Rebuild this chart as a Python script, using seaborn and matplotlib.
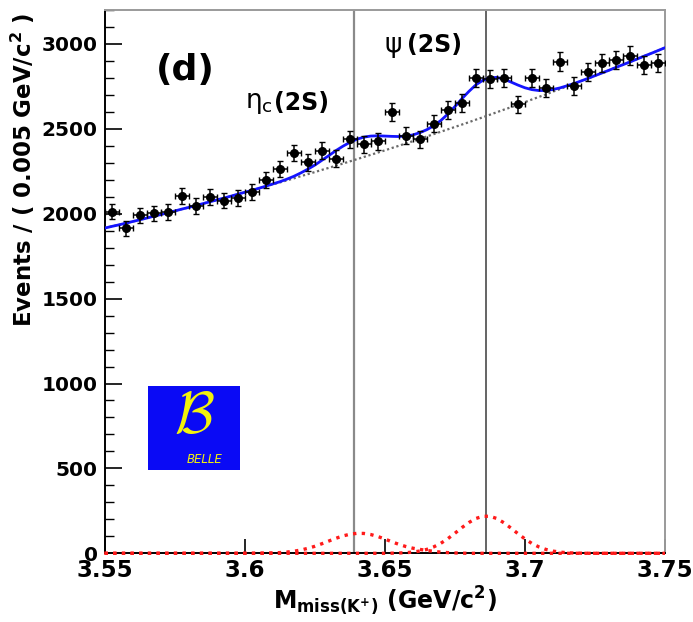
import numpy as np
import pandas as pd
import matplotlib
matplotlib.use("Agg")
import matplotlib.pyplot as plt
import seaborn as sns

# ---------------- data ----------------
mass_bins = np.round(np.arange(3.5525, 3.75, 0.005), 4)   # 40 bin centres (0.005 GeV bins)
counts = [2012, 1915, 1990, 2002, 2010, 2104, 2045, 2100, 2077, 2092,
          2128, 2199, 2262, 2357, 2302, 2372, 2325, 2439, 2408, 2427,
          2600, 2459, 2439, 2530, 2612, 2652, 2798, 2794, 2801, 2644,
          2798, 2739, 2896, 2754, 2833, 2888, 2904, 2931, 2876, 2888]

curve_mass = np.round(np.linspace(3.55, 3.75, 81), 4)
background = [1915, 1925, 1934, 1944, 1954, 1964, 1974, 1985, 1995, 2005,
              2016, 2027, 2037, 2048, 2059, 2070, 2081, 2092, 2103, 2115,
              2126, 2137, 2149, 2161, 2173, 2184, 2196, 2208, 2221, 2233,
              2245, 2258, 2270, 2283, 2295, 2308, 2321, 2334, 2347, 2360,
              2373, 2387, 2400, 2414, 2427, 2441, 2455, 2469, 2483, 2497,
              2511, 2525, 2539, 2554, 2568, 2583, 2598, 2613, 2627, 2642,
              2657, 2673, 2688, 2703, 2719, 2734, 2750, 2765, 2781, 2797,
              2813, 2829, 2845, 2862, 2878, 2894, 2911, 2928, 2944, 2961,
              2978]
etac_signal = [0] * 22 + [0.6, 1.1, 2.2, 4.1, 7.2, 12, 19, 29, 41, 56,
                          72, 88, 102, 112, 117.5, 117, 110.5, 99, 84.5, 68,
                          53, 40, 30, 23, 17, 11, 7, 4, 2, 1] + [0] * 29
psi_signal = [0] * 41 + [0.7, 1.7, 3.6, 7.1, 13.3, 23, 38, 59, 86, 117.5,
                         151, 181, 205, 218, 218, 205, 180, 149, 116, 85,
                         58, 37.6, 22.8, 13, 7, 3.5, 1.6, 0.7] + [0] * 12

x_ticks = [3.55, 3.6, 3.65, 3.7, 3.75]
x_tick_labels = ["3.55", "3.6", "3.65", "3.7", "3.75"]
y_ticks = [0, 500, 1000, 1500, 2000, 2500, 3000]
etac_mass = 3.639
psi_mass = 3.686

# ---------------- frames ----------------
pts = pd.DataFrame({"mass": mass_bins, "events": counts})
pts["err"] = np.sqrt(pts["events"])
curves = pd.DataFrame({"mass": curve_mass, "bkg": background,
                       "etac": etac_signal, "psi": psi_signal})
curves["total"] = curves["bkg"] + curves["etac"] + curves["psi"]

# ---------------- style ----------------
sns.set_theme(style="ticks")
plt.rcParams["font.family"] = ["DejaVu Sans"]
plt.rcParams["font.weight"] = "bold"
plt.rcParams["mathtext.fontset"] = "dejavusans"
for k in ["text.color", "axes.labelcolor", "xtick.color", "ytick.color"]:
    plt.rcParams[k] = "black"

W, H = 693, 622
fig = plt.figure(figsize=(W / 100, H / 100), dpi=100)
L, R, T, B = 104.5, 665, 10, 553.3
ax = fig.add_axes([L / W, 1 - B / H, (R - L) / W, (B - T) / H])

# vertical marker lines
ax.axvline(etac_mass, color="#8a8a8a", lw=1.6, zorder=1)
ax.axvline(psi_mass, color="#3a3a3a", lw=1.1, zorder=1)

# signal components (red dotted)
sns.lineplot(data=curves, x="mass", y="etac", ax=ax, color="#ff1a1a",
             lw=2.4, linestyle=(0, (1, 1.6)), zorder=3, clip_on=False)
sns.lineplot(data=curves, x="mass", y="psi", ax=ax, color="#ff1a1a",
             lw=2.4, linestyle=(0, (1, 1.6)), zorder=3, clip_on=False)
# background (grey dotted)
sns.lineplot(data=curves, x="mass", y="bkg", ax=ax, color="#6a6a6a",
             lw=1.6, linestyle=(0, (1, 1.2)), zorder=3)
# total fit (blue)
sns.lineplot(data=curves, x="mass", y="total", ax=ax, color="#1414ff",
             lw=2.0, zorder=4)

# data points
ax.errorbar(pts["mass"], pts["events"], yerr=pts["err"], xerr=0.0025,
            fmt="o", color="black", ms=5.5, elinewidth=1.1, capsize=2.2,
            capthick=1.0, zorder=5)

ax.set_xlim(3.55, 3.75)
ax.set_ylim(0, 3200)
ax.set_xticks(x_ticks)
ax.set_xticklabels(x_tick_labels)
ax.set_yticks(y_ticks)
ax.set_yticks(np.arange(0, 3201, 100), minor=True)

ax.tick_params(axis="x", which="major", direction="in", length=10, width=1.2,
               labelsize=16.5, pad=4, top=False)
ax.tick_params(axis="y", which="major", direction="in", length=12, width=1.2,
               labelsize=14.5, pad=5, right=False)
ax.tick_params(axis="y", which="minor", direction="in", length=6.5, width=1.0,
               right=False)
for lab in ax.get_xticklabels() + ax.get_yticklabels():
    lab.set_fontweight("bold")

for s in ["left", "bottom"]:
    ax.spines[s].set_color("black")
    ax.spines[s].set_linewidth(1.4)
for s in ["top", "right"]:
    ax.spines[s].set_color("#9a9a9a")
    ax.spines[s].set_linewidth(1.4)

ax.set_ylabel(r"Events / ( 0.005 GeV/c$^{\mathbf{2}}$ )", fontsize=16.5,
              fontweight="bold", loc="top")
ax.yaxis.set_label_coords(-0.12, 0.995)
ax.set_xlabel(r"M$_{\mathbf{miss(K^{+})}}$ (GeV/c$^{\mathbf{2}}$)", fontsize=17,
              fontweight="bold", labelpad=2)

# annotations
ax.text(3.5787, 2847, "(d)", fontsize=26, fontweight="bold", ha="center",
        va="center")
ax.text(3.6001, 2652, r"$\mathregular{\eta}_{\mathregular{c}}$",
        fontsize=19, fontweight="normal", ha="left", va="center")
ax.text(3.6105, 2652, "(2S)", fontsize=17, fontweight="bold", ha="left",
        va="center")
ax.text(3.650, 2994, "\u03c8", fontsize=19, fontweight="normal", ha="left",
        va="center")
ax.text(3.6578, 2994, "(2S)", fontsize=17, fontweight="bold", ha="left",
        va="center")

# BELLE logo
lg = fig.add_axes([148 / W, 1 - 470 / H, 92 / W, 84 / H])
lg.set_facecolor("#0a0af5")
lg.set_xticks([])
lg.set_yticks([])
for s in lg.spines.values():
    s.set_visible(False)
lg.text(0.5, 0.64, r"$\mathcal{B}$", color="#f2f20c", fontsize=42,
        ha="center", va="center", transform=lg.transAxes,
        math_fontfamily="cm")
lg.text(0.62, 0.13, "BELLE", color="#f2f20c", fontsize=8.5, style="italic",
        fontweight="normal", ha="center", va="center", transform=lg.transAxes)

fig.savefig("out.png", dpi=100)
